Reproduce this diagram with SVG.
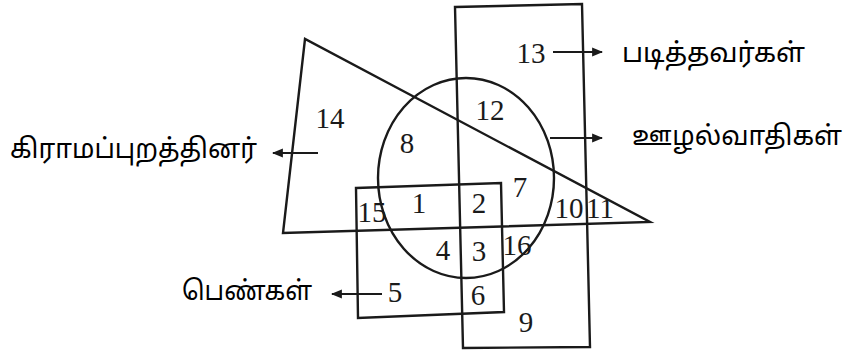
<svg xmlns="http://www.w3.org/2000/svg" width="850" height="350" viewBox="0 0 850 350">
<style>
.sh{fill:none;stroke:#1a1a1a;stroke-width:2.4}
.ln{fill:none;stroke:#1a1a1a;stroke-width:2.2}
.num{font-family:"Liberation Serif","Times New Roman",serif;font-size:29px;fill:#1a1a1a;text-anchor:middle}
.lbl{font-family:"Noto Sans Tamil","Lohit Tamil","Noto Sans",sans-serif;font-size:27px;fill:#000}
</style>
<defs>
<marker id="ah" viewBox="0 0 10 10" refX="9" refY="5" markerWidth="5" markerHeight="5" markerUnits="strokeWidth" orient="auto">
<path d="M0,1 L10,5 L0,9 Z" fill="#1a1a1a"/>
</marker>
</defs>
<rect width="850" height="350" fill="#fff"/>
<g id="educated"><polygon class="sh" points="455,7 582,4 590,347 463,348"/></g>
<g id="rural"><polygon class="sh" points="305,39 283,233 650,222"/></g>
<g id="corrupt"><ellipse class="sh" cx="466" cy="178" rx="88" ry="100"/></g>
<g id="women"><polygon class="sh" points="356,188 501,183 504,312 358,318"/></g>
<g id="numbers">
<text class="num" x="531" y="63">13</text>
<text class="num" x="490" y="120">12</text>
<text class="num" x="330" y="128">14</text>
<text class="num" x="407" y="153">8</text>
<text class="num" x="520" y="197">7</text>
<text class="num" x="419" y="213">1</text>
<text class="num" x="479" y="213">2</text>
<text class="num" x="372" y="222">15</text>
<text class="num" x="569" y="218">10</text>
<text class="num" x="600" y="218">11</text>
<text class="num" x="443" y="260">4</text>
<text class="num" x="479" y="261">3</text>
<text class="num" x="517" y="255">16</text>
<text class="num" x="395" y="302">5</text>
<text class="num" x="478" y="305">6</text>
<text class="num" x="526" y="332">9</text>
</g>
<g id="connectors">
<line class="ln" x1="553" y1="52" x2="602" y2="52" marker-end="url(#ah)"/>
<line class="ln" x1="550" y1="138" x2="602" y2="138" marker-end="url(#ah)"/>
<line class="ln" x1="318" y1="153" x2="273" y2="153" marker-end="url(#ah)"/>
<line class="ln" x1="382" y1="294" x2="332" y2="294" marker-end="url(#ah)"/>
</g>
<g id="labels">
<text class="lbl" x="622" y="62" textLength="183" lengthAdjust="spacingAndGlyphs">படித்தவர்கள்</text>
<text class="lbl" x="632" y="145" textLength="210" lengthAdjust="spacingAndGlyphs">ஊழல்வாதிகள்</text>
<text class="lbl" x="10" y="158" textLength="247" lengthAdjust="spacingAndGlyphs">கிராமப்புறத்தினர்</text>
<text class="lbl" x="182" y="300" textLength="130" lengthAdjust="spacingAndGlyphs">பெண்கள்</text>
</g>
</svg>
